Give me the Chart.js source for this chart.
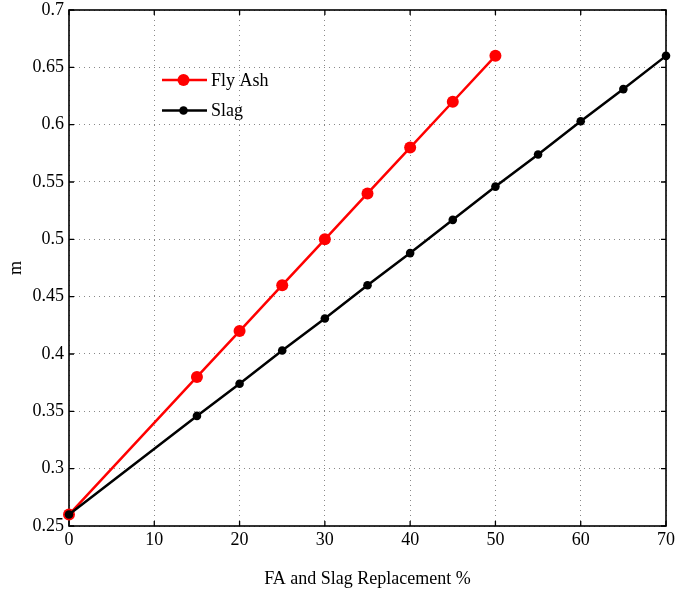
<!DOCTYPE html>
<html>
<head>
<meta charset="utf-8">
<script src="https://cdn.jsdelivr.net/npm/chart.js@4"></script>
<style>
  html, body { margin: 0; padding: 0; background: #fff; }
  #contenedor { width: 675px; height: 592px; }
</style>
</head>
<body>
<div id="contenedor"><canvas id="graficoM"></canvas></div>
<script>
// Reemplazo de cemento (%) y valor de m para cada adición
const flyAshX = [0, 15, 20, 25, 30, 35, 40, 45, 50];
const flyAshM = [0.26, 0.38, 0.42, 0.46, 0.50, 0.54, 0.58, 0.62, 0.66];
const slagX = [0, 15, 20, 25, 30, 35, 40, 45, 50, 55, 60, 65, 70];
const slagM = [0.26, 0.346, 0.374, 0.403, 0.431, 0.46, 0.488, 0.517, 0.546, 0.574, 0.603, 0.631, 0.66];
const xTicks = [0, 10, 20, 30, 40, 50, 60, 70];
const yTicks = [0.25, 0.3, 0.35, 0.4, 0.45, 0.5, 0.55, 0.6, 0.65, 0.7];

const fuente = '"Liberation Serif", "Times New Roman", serif';

const puntos = (xs, ys) => xs.map((x, i) => ({ x: x, y: ys[i] }));

// caja de ejes con marcas hacia dentro en los cuatro lados
const marcoEjes = {
  id: 'marcoEjes',
  beforeDatasetsDraw(chart) {
    const { ctx, chartArea: a, scales: { x, y } } = chart;
    const largo = 5;
    ctx.save();
    ctx.strokeStyle = '#000';
    ctx.lineWidth = 1.3;
    ctx.beginPath();
    xTicks.forEach(v => {
      const px = x.getPixelForValue(v);
      ctx.moveTo(px, a.bottom); ctx.lineTo(px, a.bottom - largo);
      ctx.moveTo(px, a.top); ctx.lineTo(px, a.top + largo);
    });
    yTicks.forEach(v => {
      const py = y.getPixelForValue(v);
      ctx.moveTo(a.left, py); ctx.lineTo(a.left + largo, py);
      ctx.moveTo(a.right, py); ctx.lineTo(a.right - largo, py);
    });
    ctx.stroke();
    ctx.lineWidth = 1.6;
    ctx.strokeRect(a.left, a.top, a.right - a.left, a.bottom - a.top);
    ctx.restore();
  }
};

// leyenda dentro del área de trazado: línea con marcador y nombre
const leyenda = {
  id: 'leyenda',
  afterDraw(chart) {
    const { ctx, chartArea: a } = chart;
    ctx.save();
    ctx.font = '18px ' + fuente;
    ctx.textBaseline = 'middle';
    chart.data.datasets.forEach((ds, i) => {
      const y0 = a.top + 70 + i * 30.5;
      const x0 = a.left + 93;
      ctx.strokeStyle = ds.borderColor;
      ctx.lineWidth = ds.borderWidth;
      ctx.beginPath();
      ctx.moveTo(x0, y0); ctx.lineTo(x0 + 45, y0);
      ctx.stroke();
      ctx.fillStyle = ds.pointBackgroundColor;
      ctx.beginPath();
      ctx.arc(x0 + 21.5, y0, ds.pointRadius, 0, Math.PI * 2);
      ctx.fill();
      ctx.fillStyle = '#000';
      ctx.fillText(ds.label, x0 + 49, y0 + 1);
    });
    ctx.restore();
  }
};

new Chart(document.getElementById('graficoM').getContext('2d'), {
  type: 'line',
  data: {
    datasets: [
      {
        label: 'Fly Ash',
        data: puntos(flyAshX, flyAshM),
        borderColor: '#ff0000',
        backgroundColor: '#ff0000',
        pointBackgroundColor: '#ff0000',
        pointBorderColor: '#ff0000',
        borderWidth: 2.5,
        pointRadius: 6,
        pointBorderWidth: 0,
        tension: 0,
        clip: false,
        order: 2
      },
      {
        label: 'Slag',
        data: puntos(slagX, slagM),
        borderColor: '#000000',
        backgroundColor: '#000000',
        pointBackgroundColor: '#000000',
        pointBorderColor: '#000000',
        borderWidth: 2.5,
        pointRadius: 4.3,
        pointBorderWidth: 0,
        tension: 0,
        clip: false,
        order: 1
      }
    ]
  },
  options: {
    responsive: true,
    maintainAspectRatio: false,
    animation: false,
    layout: { padding: { top: 10, right: 9, left: 0, bottom: 0 } },
    plugins: {
      legend: { display: false },
      tooltip: { enabled: false }
    },
    scales: {
      x: {
        type: 'linear',
        min: 0,
        max: 70,
        afterFit: s => {
          s.height = 66;
          s.paddingLeft = 0;
          s.paddingRight = 0;
        },
        afterBuildTicks: s => { s.ticks = xTicks.map(v => ({ value: v })); },
        ticks: {
          color: '#000',
          font: { family: fuente, size: 18 },
          padding: 3,
          maxRotation: 0,
          callback: v => String(v)
        },
        grid: { color: '#888', lineWidth: 1, drawTicks: false },
        border: { display: false, dash: [1, 4] },
        title: {
          display: true,
          text: 'FA and Slag Replacement %',
          color: '#000',
          font: { family: fuente, size: 18 },
          padding: { top: 0, bottom: 2 }
        }
      },
      y: {
        type: 'linear',
        min: 0.25,
        max: 0.7,
        afterFit: s => {
          s.width = 69;
          s.paddingTop = 0;
          s.paddingBottom = 0;
        },
        afterBuildTicks: s => { s.ticks = yTicks.map(v => ({ value: v })); },
        ticks: {
          color: '#000',
          font: { family: fuente, size: 18 },
          padding: 5,
          callback: v => String(parseFloat(v.toFixed(2)))
        },
        grid: { color: '#888', lineWidth: 1, drawTicks: false },
        border: { display: false, dash: [1, 4] },
        title: {
          display: true,
          text: 'm',
          color: '#000',
          font: { family: fuente, size: 18, lineHeight: 1.85 },
          padding: { top: 0, bottom: 0 }
        }
      }
    }
  },
  plugins: [marcoEjes, leyenda]
});
</script>
</body>
</html>
